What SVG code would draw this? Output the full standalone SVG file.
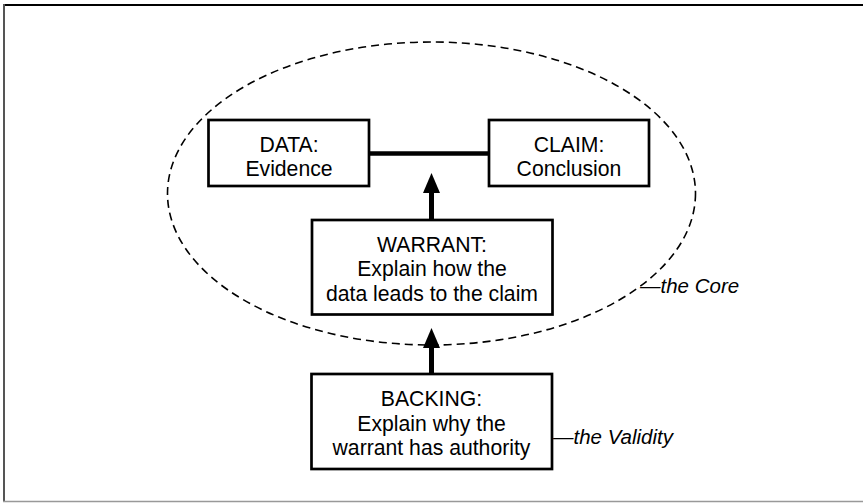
<svg xmlns="http://www.w3.org/2000/svg" width="863" height="503" viewBox="0 0 863 503">
<style>
.box{fill:#fff;stroke:#000;stroke-width:2.7}
.t{font-family:"Liberation Sans",Arial,sans-serif;font-size:21.2px;fill:#000;text-anchor:middle}
.lbl{font-family:"Liberation Sans",Arial,sans-serif;font-size:20.5px;font-style:italic;fill:#000}
.conn{stroke:#000;fill:none}
</style>
<defs>
<marker id="ah" viewBox="0 0 20 17" markerUnits="userSpaceOnUse" markerWidth="20" markerHeight="17" refX="0" refY="8.5" orient="auto">
<path d="M0,0 L20,8.5 L0,17 z" fill="#000"/>
</marker>
</defs>
<rect width="863" height="503" fill="#fff"/>
<g id="frame">
<line x1="3" y1="5" x2="863" y2="5" stroke="#000" stroke-width="2.2"/>
<line x1="4" y1="4" x2="4" y2="502" stroke="#555" stroke-width="2"/>
<line x1="3" y1="501.5" x2="863" y2="501.5" stroke="#999" stroke-width="1.5"/>
</g>
<g id="core">
<ellipse cx="431.5" cy="193.5" rx="264" ry="151.5" fill="none" stroke="#000" stroke-width="1.6" stroke-dasharray="8 5"/>
</g>
<g id="connectors">
<line class="conn" x1="369" y1="153.5" x2="489" y2="153.5" stroke-width="4.5"/>
<line class="conn" x1="431.5" y1="220" x2="431.5" y2="193" stroke-width="5" marker-end="url(#ah)"/>
<line class="conn" x1="431.5" y1="374" x2="431.5" y2="348" stroke-width="5" marker-end="url(#ah)"/>
</g>
<g id="data">
<rect class="box" x="208.5" y="120" width="160.5" height="66"/>
<text class="t" x="289" y="152">DATA:</text>
<text class="t" x="289" y="175.5">Evidence</text>
</g>
<g id="claim">
<rect class="box" x="489" y="120" width="160" height="66"/>
<text class="t" x="569" y="152">CLAIM:</text>
<text class="t" x="569" y="175.5">Conclusion</text>
</g>
<g id="warrant">
<rect class="box" x="312" y="220" width="240.5" height="94.5"/>
<text class="t" x="432" y="251.5">WARRANT:</text>
<text class="t" x="432" y="276">Explain how the</text>
<text class="t" x="432" y="300.5">data leads to the claim</text>
</g>
<g id="backing">
<rect class="box" x="311.5" y="374" width="240.5" height="95"/>
<text class="t" x="431.5" y="406">BACKING:</text>
<text class="t" x="431.5" y="430.5">Explain why the</text>
<text class="t" x="431.5" y="455">warrant has authority</text>
</g>
<g id="label-core">
<text class="lbl" x="640" y="293">—the Core</text>
</g>
<g id="label-validity">
<text class="lbl" x="553" y="444">—the Validity</text>
</g>
</svg>
